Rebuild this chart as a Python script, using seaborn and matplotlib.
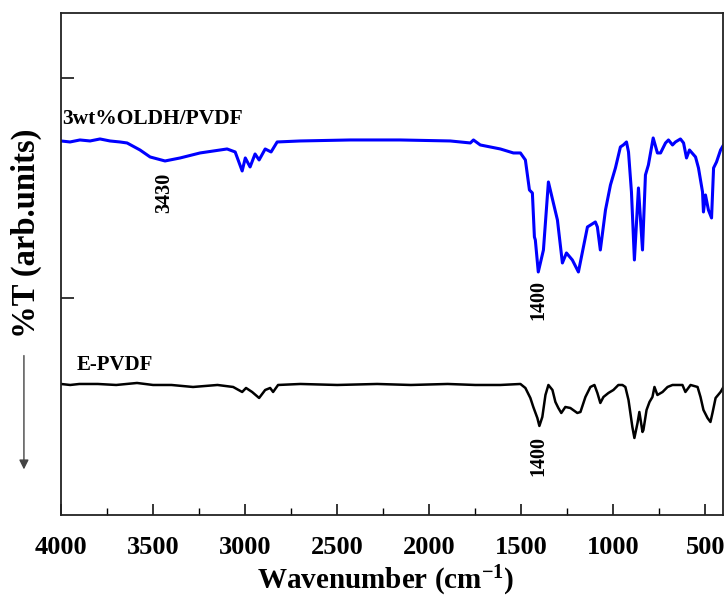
import pandas as pd
import matplotlib
matplotlib.use("Agg")
import matplotlib.pyplot as plt
from matplotlib.ticker import MultipleLocator
import seaborn as sns

# FTIR spectra (wavenumber in cm-1, transmittance in arb. units)
oldh_wn = [4000, 3951, 3897, 3842, 3788, 3734, 3680, 3641, 3571, 3516, 3435, 3353, 3245,
           3098, 3054, 3016, 2999, 2973, 2946, 2924, 2891, 2859, 2826, 2701, 2429, 2158,
           1886, 1777, 1760, 1723, 1614, 1543, 1505, 1478, 1456, 1440, 1429, 1424, 1408,
           1380, 1353, 1326, 1304, 1277, 1255, 1223, 1190, 1141, 1098, 1087, 1071, 1043,
           1016, 989, 962, 946, 929, 918, 902, 886, 864, 842, 826, 810, 784, 761, 744,
           717, 701, 679, 663, 636, 619, 603, 587, 554, 538, 516, 511, 500, 484, 467,
           456, 440, 418, 402]
oldh_t = [374, 373, 375, 374, 376, 374, 373, 372, 365, 358, 354, 357, 362,
          366, 363, 344, 357, 348, 361, 355, 366, 363, 373, 374, 375, 375,
          374, 372, 375, 370, 366, 362, 362, 355, 325, 322, 278, 275, 243,
          265, 333, 312, 295, 252, 262, 255, 243, 288, 293, 288, 265, 305,
          330, 347, 368, 370, 373, 363, 323, 255, 327, 265, 340, 350, 377, 362, 362,
          372, 375, 370, 373, 376, 372, 357, 365, 358, 347, 323, 303, 320, 305, 297,
          347, 353, 365, 370]

epvdf_wn = [4000, 3950, 3900, 3800, 3700, 3587, 3500, 3400, 3283, 3150, 3065, 3016, 2995,
            2962, 2924, 2891, 2864, 2848, 2821, 2700, 2500, 2283, 2100, 1900, 1750, 1614,
            1505, 1478, 1451, 1435, 1413, 1402, 1386, 1369, 1353, 1331, 1315, 1299, 1283,
            1261, 1234, 1196, 1179, 1152, 1125, 1103, 1087, 1071, 1054, 1027, 1000, 973,
            951, 935, 918, 897, 886, 869, 859, 842, 837, 820, 804, 788, 777, 761, 733,
            706, 679, 652, 625, 609, 581, 543, 527, 511, 489, 473, 462, 445, 418, 402]
epvdf_t = [131, 130, 131, 131, 130, 132, 130, 130, 128, 130, 128, 123, 127,
           123, 117, 125, 127, 123, 130, 131, 130, 131, 130, 131, 130, 130,
           131, 127, 117, 108, 97, 89, 98, 120, 130, 125, 113, 107, 102,
           108, 107, 102, 103, 118, 128, 130, 122, 112, 118, 122, 125, 130,
           130, 128, 115, 88, 77, 92, 103, 83, 85, 105, 113, 118, 128, 120, 123,
           128, 130, 130, 130, 123, 130, 128, 118, 105, 97, 93, 102, 117, 123, 128]

xticks = [4000, 3500, 3000, 2500, 2000, 1500, 1000, 500]

sns.set_style("ticks")
plt.rcParams['font.family'] = ['Liberation Serif', 'DejaVu Serif']
plt.rcParams['font.weight'] = 'bold'
plt.rcParams['text.color'] = 'black'
plt.rcParams['axes.labelcolor'] = 'black'
plt.rcParams['xtick.color'] = 'black'
plt.rcParams['ytick.color'] = 'black'
plt.rcParams['mathtext.fontset'] = 'custom'
plt.rcParams['mathtext.rm'] = 'Liberation Serif:bold'
plt.rcParams['mathtext.it'] = 'Liberation Serif:bold'
plt.rcParams['mathtext.default'] = 'rm'

fig = plt.figure(figsize=(7.25, 6), dpi=100)
ax = fig.add_axes([0.0841, 0.1417, 0.9131, 0.8367])

oldh = pd.DataFrame({'wn': oldh_wn, 't': oldh_t})
epvdf = pd.DataFrame({'wn': epvdf_wn, 't': epvdf_t})
sns.lineplot(data=oldh, x='wn', y='t', color='#0000ff', lw=2.2, ax=ax)
sns.lineplot(data=epvdf, x='wn', y='t', color='black', lw=1.8, ax=ax)

ax.set_xlim(4000, 405)
ax.set_ylim(0, 502)
ax.set_xticks(xticks)
ax.xaxis.set_minor_locator(MultipleLocator(250))
ax.set_yticks([217, 437])
ax.set_yticklabels([])
ax.tick_params(axis='x', which='major', direction='in', length=8, width=1.1,
               labelsize=19, pad=15, top=False)
ax.tick_params(axis='x', which='minor', direction='in', length=5, width=1.0, top=False)
ax.tick_params(axis='y', direction='in', length=9, width=1.1, right=False)
for s in ax.spines.values():
    s.set_linewidth(1.3)
    s.set_color('#222222')

ax.set_xlabel('Wavenumber (cm$^{-1}$)', fontsize=21, fontweight='bold')
ax.xaxis.set_label_coords(0.49, -0.098)
ax.set_ylabel('%T (arb.units)', fontsize=23.5, fontweight='bold')
ax.yaxis.set_label_coords(-0.028, 0.562)

ax.text(3993, 396, '3wt%OLDH/PVDF', fontsize=15.5, fontweight='bold', va='center', ha='left')
ax.text(3913, 150, 'E-PVDF', fontsize=15, fontweight='bold', va='center', ha='left')
ax.text(3440, 322, '3430', fontsize=14.5, fontweight='bold', rotation=90, va='center', ha='center')
ax.text(1408, 215, '1400', fontsize=14.5, fontweight='bold', rotation=90, va='center', ha='center')
ax.text(1408, 59, '1400', fontsize=14.5, fontweight='bold', rotation=90, va='center', ha='center')

ax.annotate('', xy=(0.033, 0.213), xytext=(0.033, 0.412),
            xycoords='figure fraction', textcoords='figure fraction',
            arrowprops=dict(arrowstyle='-|>', color='#444444', lw=1.0, mutation_scale=14))

fig.savefig('out.png', dpi=100)
